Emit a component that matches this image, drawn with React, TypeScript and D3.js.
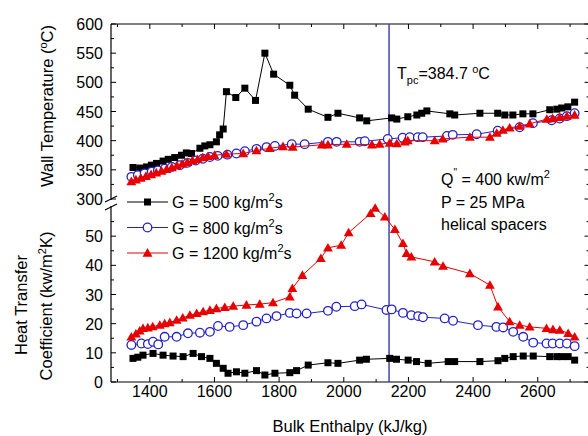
import React from 'react';
import * as d3 from 'd3';

// enthalpy (kJ/kg), value pairs
const wall500: [number, number][] = [
  [1348, 354], [1369, 353], [1390, 355], [1405, 358], [1421, 361], [1441, 365], [1457, 368],
  [1477, 371], [1498, 375], [1513, 379], [1529, 378], [1555, 387], [1570, 391], [1586, 393],
  [1606, 398], [1616, 410], [1627, 420], [1637, 484], [1666, 474], [1694, 490], [1727, 469],
  [1756, 550], [1783, 514], [1833, 495], [1848, 478], [1890, 454], [1951, 440], [1982, 447],
  [2049, 439], [2071, 434], [2148, 439], [2164, 437], [2198, 441], [2226, 444], [2241, 447],
  [2257, 451], [2328, 446], [2343, 444], [2421, 447], [2476, 447], [2498, 444], [2523, 444],
  [2554, 446], [2585, 446], [2637, 453], [2659, 454], [2674, 456], [2693, 458], [2714, 466],
];
const wall800: [number, number][] = [
  [1343, 338], [1363, 341], [1384, 344], [1406, 347], [1425, 349], [1446, 352], [1468, 355],
  [1493, 358], [1517, 362], [1542, 366], [1564, 369], [1586, 372], [1610, 374], [1640, 376],
  [1668, 378], [1694, 382], [1730, 386], [1761, 389], [1787, 391], [1839, 394], [1879, 394],
  [1951, 398], [1978, 398], [2049, 398], [2065, 399], [2136, 403], [2182, 405], [2204, 406],
  [2229, 406], [2244, 406], [2319, 408], [2337, 410], [2411, 411], [2476, 417], [2544, 423],
  [2585, 430], [2643, 435], [2668, 438], [2690, 442], [2714, 447],
];
const wall1200: [number, number][] = [
  [1343, 330], [1357, 333], [1372, 336], [1388, 339], [1404, 342], [1420, 345], [1436, 348],
  [1452, 351], [1468, 354], [1484, 357], [1500, 360], [1516, 363], [1532, 366], [1548, 368],
  [1564, 371], [1580, 373], [1600, 375], [1637, 377], [1689, 378], [1730, 383], [1771, 387],
  [1812, 390], [1842, 389], [1932, 393], [1951, 393], [2009, 394], [2087, 393], [2111, 394],
  [2142, 396], [2164, 395], [2189, 398], [2198, 400], [2281, 400], [2306, 403], [2390, 406],
  [2452, 406], [2473, 413], [2492, 418], [2513, 422], [2544, 425], [2575, 429], [2628, 437],
  [2646, 438], [2668, 440], [2690, 442], [2714, 444],
];

const htc500: [number, number][] = [
  [1348, 8.1], [1363, 8.5], [1379, 9.2], [1410, 9.8], [1441, 9.2], [1472, 8.9], [1503, 8.7],
  [1534, 9.8], [1560, 8.7], [1586, 8.1], [1606, 6.4], [1627, 4.7], [1642, 3.0], [1668, 3.5],
  [1694, 3.0], [1730, 3.9], [1756, 2.4], [1787, 3.0], [1833, 3.2], [1854, 3.9], [1890, 5.8],
  [1951, 6.6], [1982, 6.4], [2049, 7.5], [2070, 7.8], [2142, 8.1], [2163, 7.8], [2199, 7.5],
  [2225, 7.0], [2261, 6.4], [2323, 7.0], [2343, 7.0], [2421, 7.0], [2477, 7.3], [2498, 8.1],
  [2524, 8.7], [2555, 8.9], [2586, 8.9], [2637, 8.7], [2659, 8.7], [2674, 8.7], [2694, 8.7],
  [2714, 7.5],
];
const htc800: [number, number][] = [
  [1343, 12.7], [1374, 13.2], [1394, 13.0], [1410, 13.8], [1426, 12.9], [1446, 15.5],
  [1483, 15.5], [1518, 16.7], [1555, 16.9], [1586, 17.2], [1611, 19.2], [1647, 18.9],
  [1689, 19.5], [1730, 20.7], [1761, 21.8], [1792, 22.6], [1833, 23.7], [1854, 23.5],
  [1885, 23.5], [1951, 24.4], [1977, 25.8], [2034, 26.0], [2055, 26.6], [2132, 24.7],
  [2148, 24.9], [2183, 23.7], [2209, 22.9], [2230, 22.6], [2245, 22.2], [2312, 21.8],
  [2338, 21.0], [2415, 19.5], [2472, 18.9], [2493, 18.7], [2524, 17.2], [2555, 15.5],
  [2586, 13.5], [2627, 13.2], [2646, 13.2], [2668, 13.2], [2690, 13.2], [2714, 12.3],
];
const htc1200: [number, number][] = [
  [1343, 15.5], [1357, 16.5], [1369, 17.5], [1379, 18.4], [1394, 18.6], [1409, 19.0],
  [1431, 19.5], [1446, 20.0], [1462, 20.4], [1483, 21.2], [1502, 22.0], [1524, 22.9],
  [1545, 23.5], [1565, 24.1], [1586, 24.6], [1606, 25.2], [1632, 25.6], [1658, 26.0],
  [1699, 26.4], [1740, 26.7], [1781, 27.2], [1833, 29.2], [1841, 32.1], [1872, 36.6],
  [1929, 42.4], [1951, 46.0], [1992, 46.9], [2015, 51.2], [2083, 57.8], [2097, 59.6],
  [2127, 56.6], [2158, 52.3], [2183, 47.5], [2194, 44.1], [2209, 42.9], [2281, 41.2],
  [2307, 39.7], [2390, 37.2], [2452, 33.2], [2477, 25.8], [2513, 20.7], [2544, 19.5],
  [2575, 18.9], [2627, 18.4], [2647, 18.0], [2668, 17.8], [2694, 16.7], [2714, 15.5],
];

const enthalpyTicks = [1400, 1600, 1800, 2000, 2200, 2400, 2600];
const wallTicks = [300, 350, 400, 450, 500, 550, 600];
const htcTicks = [0, 10, 20, 30, 40, 50];
const pseudoCriticalH = 2140;

const BLACK = '#000';
const BLUE = '#2323c8';
const RED = '#e60000';
const FONT = '"Liberation Sans", Arial, sans-serif';

const left = 111, right = 589.5, top = 24, bottom = 382;
const breakTop = 199, breakBottom = 207;

const x = d3.scaleLinear().domain([1280, 2760]).range([left, right]);
const yWall = d3.scaleLinear().domain([300, 600]).range([breakTop, top]);
const yHtc = d3.scaleLinear().domain([0, 60]).range([bottom, breakBottom]);

const tri = d3.symbol(d3.symbolTriangle, 42)()!;

type Series = { data: [number, number][]; y: d3.ScaleLinear<number, number>; color: string; marker: 'sq' | 'circ' | 'tri' };

const series: Series[] = [
  { data: wall500, y: yWall, color: BLACK, marker: 'sq' },
  { data: htc500, y: yHtc, color: BLACK, marker: 'sq' },
  { data: wall800, y: yWall, color: BLUE, marker: 'circ' },
  { data: htc800, y: yHtc, color: BLUE, marker: 'circ' },
  { data: wall1200, y: yWall, color: RED, marker: 'tri' },
  { data: htc1200, y: yHtc, color: RED, marker: 'tri' },
];

function Marker({ kind, cx, cy, color }: { kind: string; cx: number; cy: number; color: string }) {
  if (kind === 'sq') return <rect x={cx - 3.5} y={cy - 3.5} width={7} height={7} fill={color} />;
  if (kind === 'circ') return <circle cx={cx} cy={cy} r={4.3} fill="#fff" stroke={color} strokeWidth={1.3} />;
  return <path d={tri} transform={`translate(${cx},${cy + 0.8})`} fill={color} />;
}

const legend = [
  { g: '500', color: BLACK, marker: 'sq' },
  { g: '800', color: BLUE, marker: 'circ' },
  { g: '1200', color: RED, marker: 'tri' },
];

export default function App() {
  const line = d3.line<[number, number]>();

  const minorX = d3.range(1300, 2760, 100);
  const minorWall = d3.range(300, 601, 25);
  const minorHtc = d3.range(0, 56, 5);

  return (
    <svg width={588} height={436} style={{ position: 'absolute', left: 0, top: 0, background: '#fff' }}
      fontFamily={FONT}>
      {/* frame */}
      <g stroke="#000" strokeWidth={1.2} fill="none">
        <line x1={left} x2={right} y1={top} y2={top} />
        <line x1={left} x2={right} y1={bottom} y2={bottom} />
        <line x1={left} x2={left} y1={top} y2={breakTop + 1} />
        <line x1={left} x2={left} y1={breakBottom - 1} y2={bottom} />
        <line x1={right} x2={right} y1={top} y2={bottom} />
      </g>

      {/* ticks */}
      <g stroke="#000" strokeWidth={1}>
        {minorX.map(v => {
          const len = enthalpyTicks.includes(v) ? 5 : 3;
          return (
            <g key={v}>
              <line x1={x(v)} x2={x(v)} y1={bottom} y2={bottom - len} />
              <line x1={x(v)} x2={x(v)} y1={top} y2={top + len} />
            </g>
          );
        })}
        {minorWall.map(v => {
          const len = wallTicks.includes(v) ? 5 : 3;
          return (
            <g key={'w' + v}>
              <line x1={left} x2={left + len} y1={yWall(v)} y2={yWall(v)} />
              <line x1={right} x2={right - len} y1={yWall(v)} y2={yWall(v)} />
            </g>
          );
        })}
        {minorHtc.map(v => {
          const len = htcTicks.includes(v) ? 5 : 3;
          return (
            <g key={'h' + v}>
              <line x1={left} x2={left + len} y1={yHtc(v)} y2={yHtc(v)} />
              <line x1={right} x2={right - len} y1={yHtc(v)} y2={yHtc(v)} />
            </g>
          );
        })}
      </g>

      {/* axis break marks */}
      <g stroke="#000" strokeWidth={1.2}>
        <line x1={105} x2={117} y1={breakTop + 3} y2={breakTop - 3} />
        <line x1={105} x2={117} y1={breakBottom + 3} y2={breakBottom - 3} />
      </g>

      {/* tick labels */}
      <g fontSize={16} fill="#000">
        {enthalpyTicks.map(v => (
          <text key={v} x={x(v)} y={397} textAnchor="middle">{v}</text>
        ))}
        {wallTicks.map(v => (
          <text key={'w' + v} x={103} y={yWall(v) + 6} textAnchor="end">{v}</text>
        ))}
        {htcTicks.map(v => (
          <text key={'h' + v} x={103} y={yHtc(v) + 6} textAnchor="end">{v}</text>
        ))}
      </g>

      {/* axis titles */}
      <g fontSize={16.5} fill="#000" textAnchor="middle">
        <text x={350} y={432}>Bulk Enthalpy (kJ/kg)</text>
        <text transform="translate(53,106) rotate(-90)">
          Wall Temperature (<tspan fontSize={11} dy={-6}>o</tspan><tspan dy={6}>C)</tspan>
        </text>
        <text transform="translate(27,305) rotate(-90)">Heat Transfer</text>
        <text transform="translate(52,306) rotate(-90)">
          Coefficient (kw/m<tspan fontSize={11} dy={-6}>2</tspan><tspan dy={6}>K)</tspan>
        </text>
      </g>

      {/* pseudo-critical line */}
      <line x1={x(pseudoCriticalH)} x2={x(pseudoCriticalH)} y1={top} y2={bottom} stroke="#4545a8" strokeWidth={1.5} />

      {/* series */}
      {series.map((s, i) => {
        const pts = s.data.map(d => [x(d[0]), s.y(d[1])] as [number, number]);
        return (
          <g key={i}>
            <path d={line(pts)!} fill="none" stroke={s.color} strokeWidth={1} />
            {pts.map((p, j) => <Marker key={j} kind={s.marker} cx={p[0]} cy={p[1]} color={s.color} />)}
          </g>
        );
      })}

      {/* legend */}
      {legend.map((l, i) => {
        const cy = 202 + i * 25.5;
        return (
          <g key={l.g}>
            <line x1={127} x2={168} y1={cy} y2={cy} stroke={l.color} strokeWidth={1} />
            <Marker kind={l.marker} cx={147.5} cy={cy} color={l.color} />
            <text x={172} y={cy + 6} fontSize={16}>
              G = {l.g} kg/m<tspan fontSize={11} dy={-7}>2</tspan><tspan dy={7}>s</tspan>
            </text>
          </g>
        );
      })}

      {/* annotations */}
      <g fontSize={16} fill="#000">
        <text x={397} y={79}>
          T<tspan fontSize={11} dy={5}>pc</tspan><tspan dy={-5}>=384.7 </tspan>
          <tspan fontSize={11} dy={-6}>o</tspan><tspan dy={6}>C</tspan>
        </text>
        <text x={441} y={185}>
          Q<tspan fontSize={10} dy={-9}>"</tspan><tspan dy={9}> = 400 kw/m</tspan>
          <tspan fontSize={11} dy={-7}>2</tspan>
        </text>
        <text x={441} y={208}>P = 25 MPa</text>
        <text x={441} y={230}>helical spacers</text>
      </g>
    </svg>
  );
}
